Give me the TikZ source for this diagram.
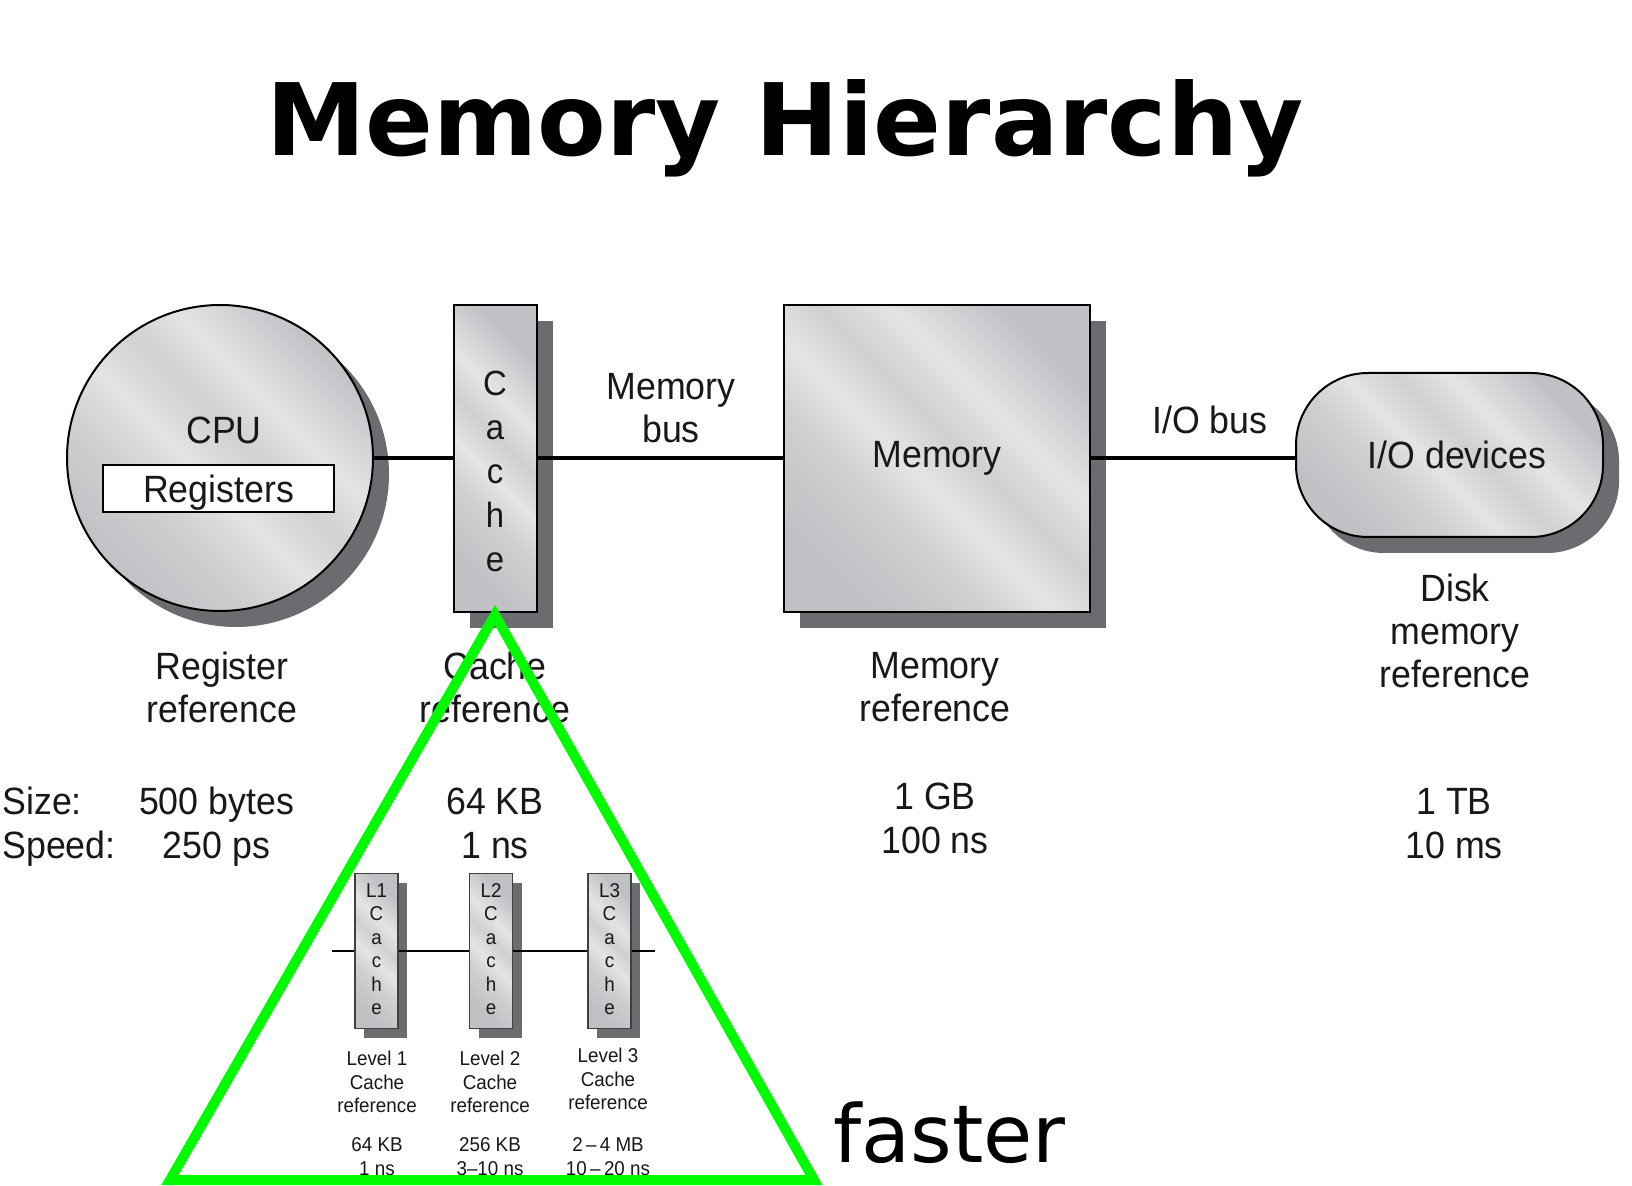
\documentclass[tikz,border=0pt]{standalone}
\usepackage{fontspec}
\setmainfont{Liberation Sans}[FakeStretch=0.94]
\newfontfamily\titlefont{DejaVu Sans}
\usetikzlibrary{shadows}
\definecolor{txt}{HTML}{1A1718}
\definecolor{shadowc}{HTML}{6A6C6F}
\definecolor{mA}{HTML}{C0C1C4}
\definecolor{mB}{HTML}{E3E4E6}
\definecolor{mC}{HTML}{CFD0D2}
\definecolor{tri}{RGB}{0,250,0}
\pgfdeclarehorizontalshading{metal}{100bp}{color(0bp)=(mA); color(25bp)=(mA); color(38bp)=(mC); color(46bp)=(mB); color(54bp)=(mC); color(62bp)=(mB); color(75bp)=(mA); color(100bp)=(mA)}
\begin{document}
\begin{tikzpicture}[x=0.5pt,y=-0.5pt,
  every node/.style={text=txt},
  metalbox/.style={draw=black, line width=1pt, shading=metal, shading angle=45, inner sep=0pt,
    drop shadow={shadow xshift=8pt, shadow yshift=-8pt, opacity=1, fill=shadowc}},
  smallbox/.style={draw=black!75, line width=0.6pt, shading=metal, shading angle=45, inner sep=0pt,
    minimum width=21.5pt, minimum height=77.5pt,
    drop shadow={shadow xshift=4.5pt, shadow yshift=-4.5pt, opacity=1, fill=shadowc}},
  bus/.style={line width=2pt, draw=black},
  thinbus/.style={line width=0.8pt, draw=black},
  big/.style={font=\fontsize{19}{21.5}\selectfont, align=center, inner sep=0pt},
  small/.style={font=\fontsize{10}{11.75}\selectfont, align=center, inner sep=0pt},
  stack/.style={font=\fontsize{10}{11.75}\selectfont, align=center, inner sep=0pt, anchor=north},
  tristyle/.style={line width=5pt, draw=tri, line join=miter}
]
\path[use as bounding box, fill=white] (0,0) rectangle (1632,1186);

% title
\node[font=\titlefont\bfseries\fontsize{50}{60}\selectfont, anchor=base, inner sep=0pt, text=black] (title) at (785,156) {Memory Hierarchy};

% main components
\node[metalbox, circle, minimum size=153pt] (cpu) at (220,458) {};
\node[big] (cpulbl) at (224,430) {CPU};
\node[draw=black, line width=1.2pt, fill=white, minimum width=115.5pt, minimum height=23.5pt, big, text depth=0pt] (reg) at (218.5,488.5) {Registers};

\node[metalbox, minimum width=41.5pt, minimum height=153.5pt] (cache) at (495.5,458.5) {};
\node[font=\fontsize{17.5}{21.9}\selectfont, align=center, inner sep=0pt, anchor=north] (cachetxt) at (495,371) {C\\a\\c\\h\\e};

\node[metalbox, minimum width=153pt, minimum height=153.5pt, big] (mem) at (937,458.5) {Memory};

\node[metalbox, rounded corners=36pt, minimum width=153.5pt, minimum height=82pt] (io) at (1449.5,455) {};
\node[big] (iolbl) at (1457,455) {I/O devices};

% buses
\draw[bus] (cpu.east) -- (cpu.east -| cache.west);
\draw[bus] (cache.east) -- (mem.west);
\draw[bus] (mem.east) -- (mem.east -| io.west);

\node[big] (membus) at (671,408.5) {Memory\\bus};
\node[big] (iobus) at (1210,420) {I/O bus};

% reference labels
\node[big] (regref) at (222,687.5) {Register\\reference};
\node[big] (cacheref) at (495,687.5) {Cache\\reference};
\node[big] (memref) at (935,687.5) {Memory\\reference};
\node[big] (diskref) at (1455,631) {Disk\\memory\\reference};

% size / speed
\node[big, anchor=base west] (sizel) at (2,814.5) {Size:};
\node[big, anchor=base west] (speedl) at (2,858.5) {Speed:};
\node[big, anchor=base] (regsize) at (216.5,814.5) {500 bytes};
\node[big, anchor=base] (regspeed) at (216.5,858.5) {250 ps};
\node[big, anchor=base] (cachesize) at (495,814.5) {64 KB};
\node[big, anchor=base] (cachespeed) at (495,858.5) {1 ns};
\node[big, anchor=base] (memsize) at (935,809.5) {1 GB};
\node[big, anchor=base] (memspeed) at (935,853.5) {100 ns};
\node[big, anchor=base] (disksize) at (1454,814.5) {1 TB};
\node[big, anchor=base] (diskspeed) at (1454,858.5) {10 ms};

% multi-level caches
\coordinate (bl) at (332,951);
\coordinate (br) at (655,951);
\node[smallbox] (l1) at (376.5,951) {};
\node[smallbox] (l2) at (491,951) {};
\node[smallbox] (l3) at (609.5,951) {};
\draw[thinbus] (bl) -- (l1);
\draw[thinbus] (l1) -- (l2);
\draw[thinbus] (l2) -- (l3);
\draw[thinbus] (l3) -- (br);
\node[stack] (l1t) at (376.5,883) {L1\\C\\a\\c\\h\\e};
\node[stack] (l2t) at (491,883) {L2\\C\\a\\c\\h\\e};
\node[stack] (l3t) at (609.5,883) {L3\\C\\a\\c\\h\\e};

\node[small] (lv1) at (377,1082) {Level 1\\Cache\\reference};
\node[small] (lv2) at (490,1082) {Level 2\\Cache\\reference};
\node[small] (lv3) at (608,1079) {Level 3\\Cache\\reference};
\node[small] (n1) at (377,1156.5) {64 KB\\1 ns};
\node[small] (n2) at (490,1156.5) {256 KB\\3--10 ns};
\node[small] (n3) at (608,1156.5) {2\,--\,4 MB\\10\,--\,20 ns};

% green triangle
\coordinate (apex) at (495,615);
\coordinate (tl) at (170,1180);
\coordinate (tr) at (814,1180);
\draw[tristyle] (apex) -- (tr) -- (tl) -- cycle;

\node[font=\titlefont\fontsize{40}{48}\selectfont, anchor=base west, inner sep=0pt, text=black] (faster) at (833,1162) {faster};
\end{tikzpicture}
\end{document}
